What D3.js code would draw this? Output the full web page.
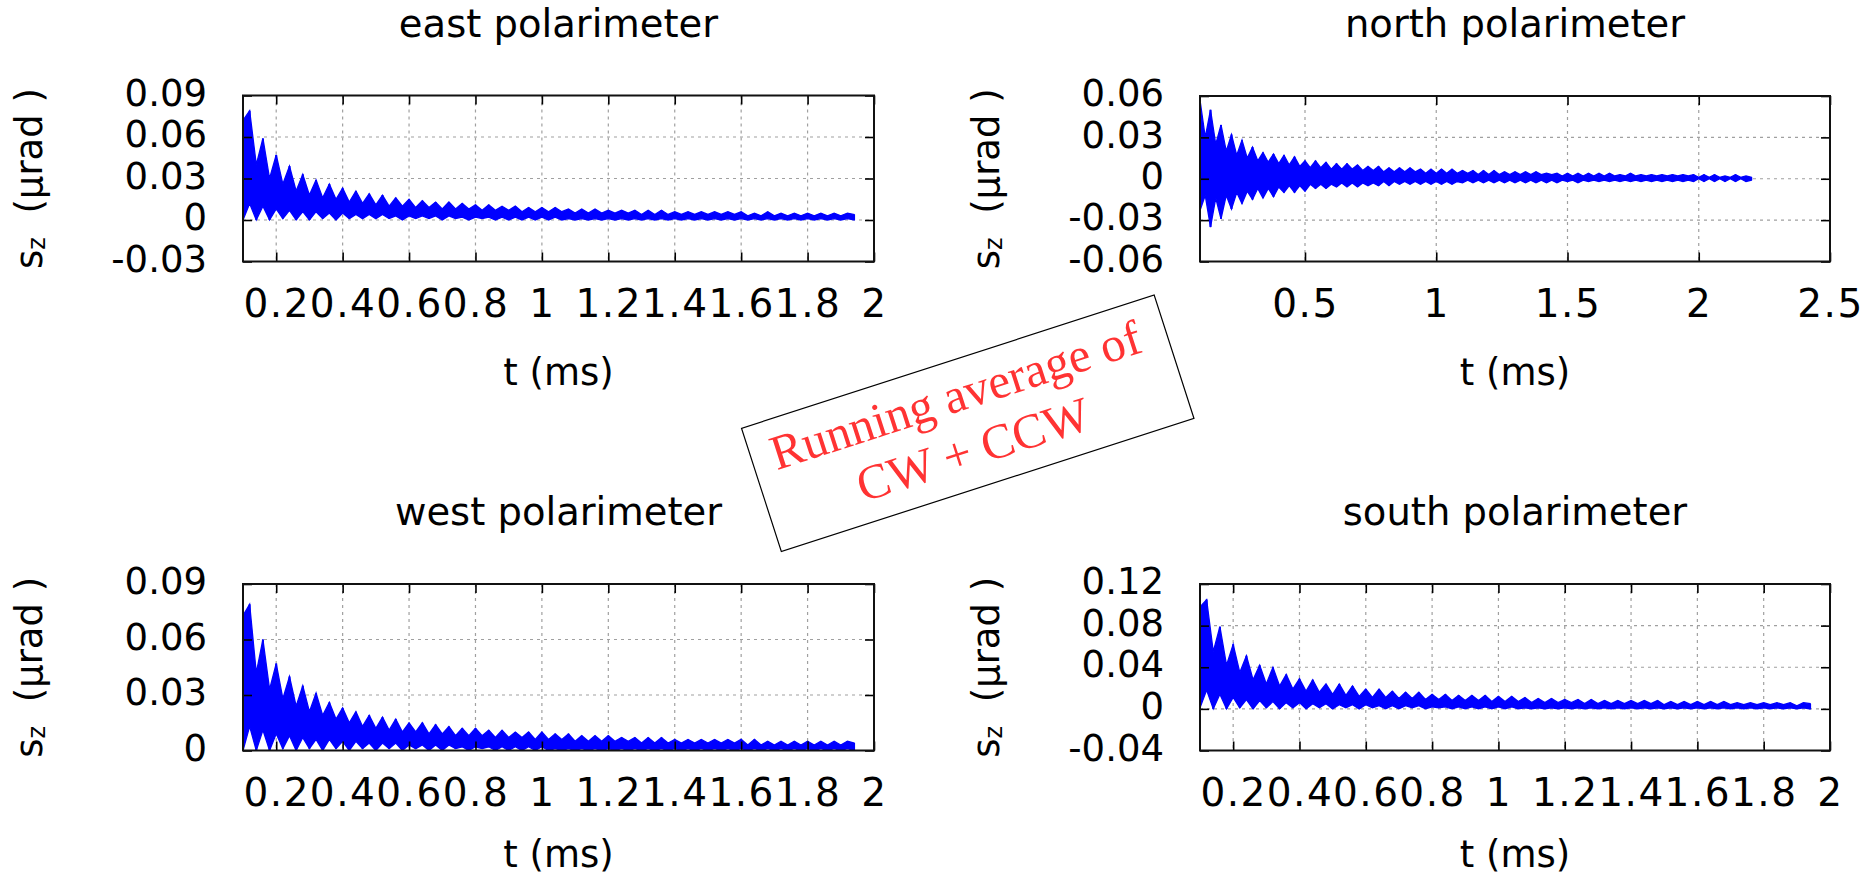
<!DOCTYPE html>
<html>
<head>
<meta charset="utf-8">
<script src="https://cdn.jsdelivr.net/npm/d3@7"></script>
<style>
body { margin:0; background:#fff; }
svg text { font-family:"DejaVu Sans", sans-serif; font-size:37px; fill:#000; }
svg text.title { font-size:38.5px; }
svg text.ylab { font-size:37px; white-space:pre; }
svg .xax text { font-size:39px; letter-spacing:1.5px; }
svg text.note { font-family:"Liberation Serif", serif; font-size:49px; fill:#f33; }
</style>
</head>
<body>
<div class="svg-canvas"></div>
<script>
// sample times (ms) shared by all four polarimeters
var tGrid = [0.1,0.12,0.14,0.16,0.18,0.2,0.22,0.24,0.26,0.28,
    0.3,0.32,0.34,0.36,0.38,0.4,0.42,0.44,0.46,0.48,
    0.5,0.52,0.54,0.56,0.58,0.6,0.62,0.64,0.66,0.68,
    0.7,0.72,0.74,0.76,0.78,0.8,0.82,0.84,0.86,0.88,
    0.9,0.92,0.94,0.96,0.98,1.0,1.02,1.04,1.06,1.08,
    1.1,1.12,1.14,1.16,1.18,1.2,1.22,1.24,1.26,1.28,
    1.3,1.32,1.34,1.36,1.38,1.4,1.42,1.44,1.46,1.48,
    1.5,1.52,1.54,1.56,1.58,1.6,1.62,1.64,1.66,1.68,
    1.7,1.72,1.74,1.76,1.78,1.8,1.82,1.84,1.86,1.88,
    1.9,1.92,1.94,1.96,1.98,2.0,2.02,2.04,2.06,2.08,
    2.1,2.12,2.14,2.16,2.18,2.2];

// upper / lower swing of s_z (urad) at each sample
var eastHi = [0.072,0.079,0.040,0.059,0.030,0.047,0.026,0.039,0.021,0.033,
    0.018,0.029,0.016,0.026,0.015,0.023,0.013,0.021,0.012,0.019,
    0.011,0.018,0.010,0.016,0.010,0.015,0.009,0.014,0.009,0.013,
    0.008,0.013,0.008,0.012,0.008,0.011,0.007,0.011,0.007,0.010,
    0.007,0.010,0.006,0.009,0.006,0.009,0.006,0.009,0.006,0.008,
    0.005,0.008,0.005,0.008,0.005,0.007,0.005,0.007,0.005,0.007,
    0.004,0.007,0.004,0.007,0.004,0.006,0.004,0.006,0.004,0.006,
    0.004,0.006,0.004,0.006,0.004,0.006,0.003,0.005,0.003,0.006,
    0.003,0.005,0.003,0.005,0.003,0.005,0.003,0.005,0.003,0.005,
    0.003,0.005,0.004];
var eastLo = [0.000,0.012,0.000,0.010,0.000,0.008,0.001,0.007,0.000,0.006,
    0.000,0.006,0.001,0.005,0.000,0.005,0.001,0.004,0.001,0.004,
    0.001,0.004,0.001,0.003,0.000,0.003,0.001,0.003,0.001,0.003,
    0.000,0.003,0.001,0.002,0.000,0.002,0.001,0.002,0.000,0.002,
    0.000,0.002,0.000,0.002,0.000,0.002,0.000,0.002,0.000,0.001,
    0.000,0.001,0.000,0.001,0.000,0.001,0.000,0.001,0.000,0.001,
    0.000,0.001,0.000,0.001,0.000,0.001,0.000,0.001,0.000,0.001,
    0.000,0.001,0.000,0.001,0.000,0.001,0.000,0.001,0.000,0.001,
    0.000,0.001,0.000,0.001,0.000,0.001,0.000,0.001,0.000,0.001,
    0.000,0.001,0.000];

var northHi = [0.057,0.030,0.050,0.025,0.039,0.020,0.032,0.017,0.028,0.015,
    0.023,0.013,0.019,0.012,0.018,0.011,0.017,0.010,0.016,0.009,
    0.013,0.008,0.013,0.008,0.012,0.007,0.011,0.007,0.011,0.007,
    0.010,0.006,0.009,0.006,0.009,0.005,0.008,0.005,0.008,0.005,
    0.008,0.005,0.007,0.004,0.007,0.004,0.007,0.004,0.007,0.004,
    0.006,0.004,0.006,0.003,0.006,0.003,0.006,0.003,0.005,0.003,
    0.005,0.003,0.005,0.003,0.005,0.003,0.004,0.003,0.004,0.002,
    0.004,0.002,0.004,0.002,0.004,0.002,0.004,0.002,0.004,0.002,
    0.003,0.002,0.004,0.002,0.003,0.002,0.003,0.002,0.003,0.002,
    0.003,0.002,0.003,0.002,0.003,0.001,0.003,0.001,0.003,0.001,
    0.002,0.001,0.003,0.001,0.002,0.001];
var northLo = [-0.023,-0.012,-0.035,-0.014,-0.029,-0.012,-0.022,-0.010,-0.018,-0.009,
    -0.015,-0.007,-0.014,-0.007,-0.013,-0.006,-0.010,-0.005,-0.010,-0.005,
    -0.009,-0.004,-0.007,-0.004,-0.007,-0.004,-0.006,-0.003,-0.006,-0.003,
    -0.006,-0.003,-0.005,-0.003,-0.005,-0.002,-0.005,-0.002,-0.004,-0.002,
    -0.004,-0.002,-0.004,-0.002,-0.004,-0.002,-0.004,-0.002,-0.004,-0.002,
    -0.003,-0.001,-0.003,-0.001,-0.003,-0.001,-0.003,-0.001,-0.003,-0.001,
    -0.003,-0.001,-0.003,-0.001,-0.003,-0.001,-0.003,-0.001,-0.003,-0.001,
    -0.002,-0.001,-0.003,-0.001,-0.002,-0.001,-0.002,-0.001,-0.002,-0.001,
    -0.002,-0.001,-0.002,-0.001,-0.002,-0.001,-0.002,-0.001,-0.002,-0.001,
    -0.002,-0.001,-0.002,-0.001,-0.002,0.000,-0.002,0.000,-0.002,0.000,
    -0.002,0.000,-0.002,0.000,-0.002,-0.001];

var westHi = [0.073,0.079,0.042,0.060,0.033,0.047,0.028,0.040,0.024,0.035,
    0.021,0.031,0.019,0.026,0.017,0.023,0.015,0.021,0.013,0.019,
    0.012,0.018,0.011,0.017,0.010,0.015,0.010,0.015,0.009,0.014,
    0.009,0.013,0.008,0.012,0.008,0.012,0.008,0.011,0.007,0.011,
    0.007,0.010,0.007,0.010,0.006,0.010,0.006,0.009,0.006,0.009,
    0.005,0.008,0.005,0.008,0.005,0.008,0.005,0.007,0.005,0.007,
    0.004,0.007,0.004,0.007,0.004,0.006,0.004,0.006,0.004,0.006,
    0.004,0.006,0.004,0.006,0.004,0.006,0.003,0.006,0.003,0.005,
    0.003,0.005,0.003,0.005,0.003,0.005,0.003,0.005,0.003,0.005,
    0.003,0.005,0.004];
var westLo = [0.000,0.013,0.000,0.011,0.000,0.009,0.001,0.008,0.000,0.007,
    0.001,0.006,0.000,0.006,0.001,0.005,0.000,0.005,0.001,0.004,
    0.000,0.004,0.001,0.004,0.000,0.003,0.001,0.003,0.000,0.003,
    0.000,0.003,0.001,0.002,0.000,0.002,0.001,0.002,0.000,0.002,
    0.000,0.002,0.000,0.002,0.000,0.002,0.000,0.001,0.000,0.001,
    0.000,0.001,0.000,0.001,0.000,0.001,0.000,0.001,0.000,0.001,
    0.000,0.001,0.000,0.001,0.000,0.001,0.000,0.001,0.000,0.001,
    0.000,0.001,0.000,0.001,0.000,0.001,0.000,0.001,0.000,0.001,
    0.000,0.001,0.000,0.001,0.000,0.001,0.000,0.001,0.000,0.001,
    0.000,0.001,0.000];

var southHi = [0.098,0.105,0.055,0.079,0.042,0.062,0.035,0.051,0.028,0.042,
    0.024,0.040,0.022,0.033,0.019,0.029,0.017,0.028,0.016,0.024,
    0.014,0.024,0.013,0.022,0.012,0.019,0.011,0.019,0.011,0.017,
    0.010,0.016,0.010,0.016,0.009,0.014,0.009,0.014,0.008,0.013,
    0.008,0.013,0.008,0.013,0.007,0.012,0.007,0.012,0.007,0.011,
    0.006,0.010,0.006,0.010,0.006,0.009,0.006,0.009,0.005,0.009,
    0.005,0.008,0.005,0.008,0.005,0.008,0.005,0.008,0.005,0.008,
    0.004,0.007,0.004,0.007,0.004,0.007,0.004,0.007,0.004,0.007,
    0.004,0.006,0.004,0.006,0.004,0.006,0.004,0.006,0.004,0.006,
    0.003,0.006,0.005];
var southLo = [0.001,0.018,0.000,0.014,0.000,0.011,0.001,0.009,0.000,0.008,
    0.001,0.007,0.000,0.006,0.001,0.006,0.000,0.005,0.001,0.005,
    0.000,0.004,0.001,0.004,0.000,0.004,0.001,0.003,0.000,0.003,
    0.000,0.003,0.001,0.003,0.000,0.002,0.001,0.002,0.000,0.002,
    0.000,0.002,0.000,0.002,0.000,0.002,0.000,0.002,0.000,0.001,
    0.000,0.001,0.000,0.001,0.000,0.001,0.000,0.001,0.000,0.001,
    0.000,0.001,0.000,0.001,0.000,0.001,0.000,0.001,0.000,0.001,
    0.000,0.001,0.000,0.001,0.000,0.001,0.000,0.001,0.000,0.001,
    0.000,0.001,0.000,0.001,0.000,0.001,0.000,0.001,0.000,0.001,
    0.000,0.001,0.000];

// tick labels
var xTicksShort = [0.2,0.4,0.6,0.8,1,1.2,1.4,1.6,1.8,2];
var xTicksLong = [0.5,1,1.5,2,2.5];
var yTicksEast = [-0.03,0,0.03,0.06,0.09];
var yTicksNorth = [-0.06,-0.03,0,0.03,0.06];
var yTicksWest = [0,0.03,0.06,0.09];
var yTicksSouth = [-0.04,0,0.04,0.08,0.12];

var titles = ["east polarimeter","north polarimeter","west polarimeter","south polarimeter"];
var noteLines = ["Running average of","CW + CCW"];

// Canvas
var W = 1875, H = 880;
var svg = d3.select("body").select(".svg-canvas").append("svg")
    .attr("width", W)
    .attr("height", H);

// panel boxes (pixels) and what goes in them
var panels = [
    {title:titles[0], hi:eastHi, lo:eastLo, xmax:2, xt:xTicksShort, yt:yTicksEast,
     left:243, right:874, top:95.5, bottom:261.5},
    {title:titles[1], hi:northHi, lo:northLo, xmax:2.5, xt:xTicksLong, yt:yTicksNorth,
     left:1200, right:1830, top:96, bottom:261.5},
    {title:titles[2], hi:westHi, lo:westLo, xmax:2, xt:xTicksShort, yt:yTicksWest,
     left:243, right:874, top:584, bottom:750.5},
    {title:titles[3], hi:southHi, lo:southLo, xmax:2, xt:xTicksShort, yt:yTicksSouth,
     left:1200, right:1830, top:584, bottom:750.5}
];

function fmt(v){ return String(v); }

panels.forEach(function(p, k){
    var x = d3.scaleLinear().domain([0.1, p.xmax]).range([p.left, p.right]);
    var y = d3.scaleLinear().domain(d3.extent(p.yt)).range([p.bottom, p.top]);
    var g = svg.append("g");

    // grid
    g.selectAll(".gx").data(p.xt.filter(function(v){ return v < p.xmax; }))
        .enter().append("line")
        .attr("x1", function(d){ return x(d); }).attr("x2", function(d){ return x(d); })
        .attr("y1", p.top).attr("y2", p.bottom)
        .attr("stroke", "#a0a0a0").attr("stroke-width", 1.2)
        .attr("stroke-dasharray", "3,4");
    g.selectAll(".gy").data(p.yt.slice(1, -1))
        .enter().append("line")
        .attr("y1", function(d){ return y(d); }).attr("y2", function(d){ return y(d); })
        .attr("x1", p.left).attr("x2", p.right)
        .attr("stroke", "#a0a0a0").attr("stroke-width", 1.2)
        .attr("stroke-dasharray", "3,4");

    // clip for the trace
    svg.append("clipPath").attr("id", "clip" + k)
        .append("rect")
        .attr("x", p.left).attr("y", p.top)
        .attr("width", p.right - p.left).attr("height", p.bottom - p.top);

    // trace: band between upper and lower swing
    var area = d3.area()
        .x(function(d, i){ return x(tGrid[i]); })
        .y0(function(d, i){ return y(p.lo[i]); })
        .y1(function(d){ return y(d); });
    g.append("path")
        .attr("d", area(p.hi))
        .attr("clip-path", "url(#clip" + k + ")")
        .attr("fill", "#0000ff")
        .attr("stroke", "#0000ff")
        .attr("stroke-width", 1.3);

    // the swings themselves as vertical strokes
    var sw = d3.path();
    p.hi.forEach(function(h, i){
        sw.moveTo(x(tGrid[i]), y(h));
        sw.lineTo(x(tGrid[i]), y(p.lo[i]));
    });
    g.append("path")
        .attr("d", sw.toString())
        .attr("clip-path", "url(#clip" + k + ")")
        .attr("fill", "none")
        .attr("stroke", "#0000ff")
        .attr("stroke-width", 2);

    // axes, gnuplot style: ticks pointing in, mirrored on all sides
    var ax = g.append("g").attr("class", "xax").attr("transform", "translate(0," + p.bottom + ")")
        .call(d3.axisBottom(x).tickValues(p.xt).tickSize(-9).tickFormat(fmt));
    ax.selectAll("text").attr("y", 55).attr("dy", 0);
    g.append("g").attr("transform", "translate(0," + p.top + ")")
        .call(d3.axisTop(x).tickValues(p.xt).tickSize(-9).tickFormat(""));
    var ay = g.append("g").attr("transform", "translate(" + p.left + ",0)")
        .call(d3.axisLeft(y).tickValues(p.yt).tickSize(-9).tickFormat(fmt));
    ay.selectAll("text").attr("x", -36).attr("dy", "0.26em");
    g.append("g").attr("transform", "translate(" + p.right + ",0)")
        .call(d3.axisRight(y).tickValues(p.yt).tickSize(-9).tickFormat(""));
    g.selectAll(".domain").remove();
    g.selectAll(".tick line").attr("stroke", "#000").attr("stroke-width", 1.6);

    g.append("rect")
        .attr("x", p.left).attr("y", p.top)
        .attr("width", p.right - p.left).attr("height", p.bottom - p.top)
        .attr("fill", "none").attr("stroke", "#111").attr("stroke-width", 2);

    var cx = (p.left + p.right) / 2;
    g.append("text").attr("class", "title").attr("x", cx).attr("y", p.top - 59)
        .attr("text-anchor", "middle").text(p.title);
    g.append("text").attr("x", cx).attr("y", Math.min(p.bottom + 123, H - 13))
        .attr("text-anchor", "middle").text("t (ms)");

    var yl = g.append("text").attr("class", "ylab")
        .attr("transform", "translate(" + (p.left - 201) + "," + ((p.top + p.bottom) / 2) + ") rotate(-90)")
        .attr("text-anchor", "middle");
    yl.append("tspan").text("s");
    yl.append("tspan").attr("dy", 3).style("font-size", "24px").text("z");
    yl.append("tspan").attr("dy", -3).text("  (\u03bcrad )");
});

// boxed note in the middle
var note = svg.append("g").attr("transform", "translate(967.75,423.3) rotate(-17.9)");
note.append("rect")
    .attr("x", -216.8).attr("y", -64.75)
    .attr("width", 433.6).attr("height", 129.5)
    .attr("fill", "#fff").attr("stroke", "#000").attr("stroke-width", 1.2);
note.selectAll("text.note").data(noteLines).enter().append("text")
    .attr("class", "note")
    .attr("x", -3)
    .attr("y", function(d, i){ return i === 0 ? -14 : 43; })
    .attr("text-anchor", "middle")
    .text(function(d){ return d; });
</script>
</body>
</html>
